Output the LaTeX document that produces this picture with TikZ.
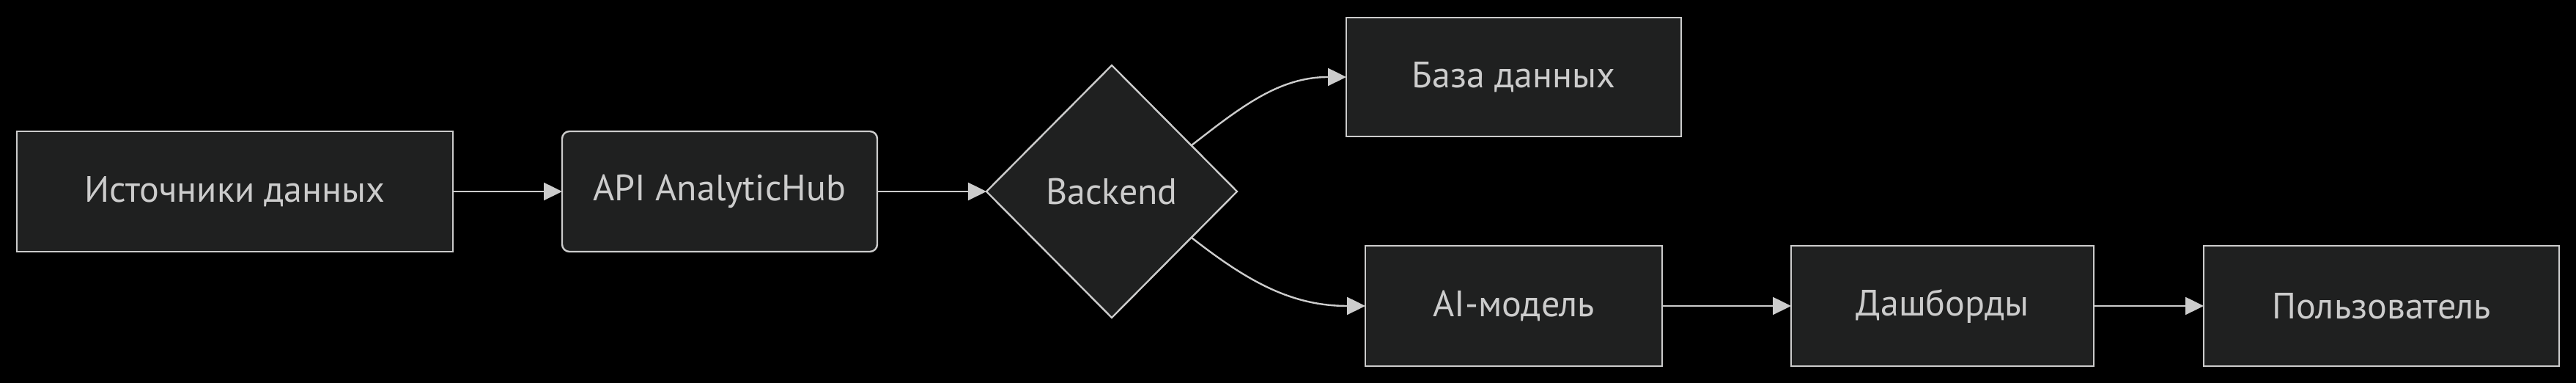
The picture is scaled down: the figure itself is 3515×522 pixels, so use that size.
\documentclass[tikz,border=0pt]{standalone}
\usepackage{fontspec}
\setmainfont{PT Sans}
\usepackage{xcolor}
\usetikzlibrary{arrows.meta,shapes.geometric}
\definecolor{nodebg}{HTML}{1F2020}
\definecolor{linegrey}{HTML}{CCCCCC}

\begin{document}
\begin{tikzpicture}[x=0.25pt,y=0.25pt,font=\fontsize{12.5}{15}\selectfont,
  box/.style={draw=linegrey,fill=nodebg,text=linegrey,line width=0.6pt,minimum height=41pt,inner sep=0pt,outer sep=0pt},
  link/.style={draw=linegrey,line width=0.6pt,-{Triangle[length=6.25pt,width=6pt]}}]
  \fill[black] (0,0) rectangle (3515,522);
  \node[box,minimum width=148.75pt] (src) at (320.5,261) {Источники данных};
  \node[box,rounded corners=2.5pt,minimum width=107.5pt] (api) at (982,261) {API AnalyticHub};
  \node[box,diamond,shape aspect=1,minimum width=85.5pt,minimum height=86pt] (be) at (1517,261) {Backend};
  \node[box,minimum width=114.25pt,minimum height=40.5pt] (db) at (2065.5,417) {База данных};
  \node[box,minimum width=101.25pt] (ai) at (2065.5,105) {AI-модель};
  \node[box,minimum width=103.25pt] (dash) at (2650.5,105) {Дашборды};
  \node[box,minimum width=121.25pt] (user) at (3249.5,105) {Пользователь};
  \foreach \a/\b in {src/api,api/be,ai/dash,dash/user}{\draw[link] (\a) -- (\b);}
  \draw[link] (be.30) to[out=38,in=180] (db.west);
  \draw[link] (be.-30) to[out=-38,in=180] (ai.west);
\end{tikzpicture}
\end{document}
